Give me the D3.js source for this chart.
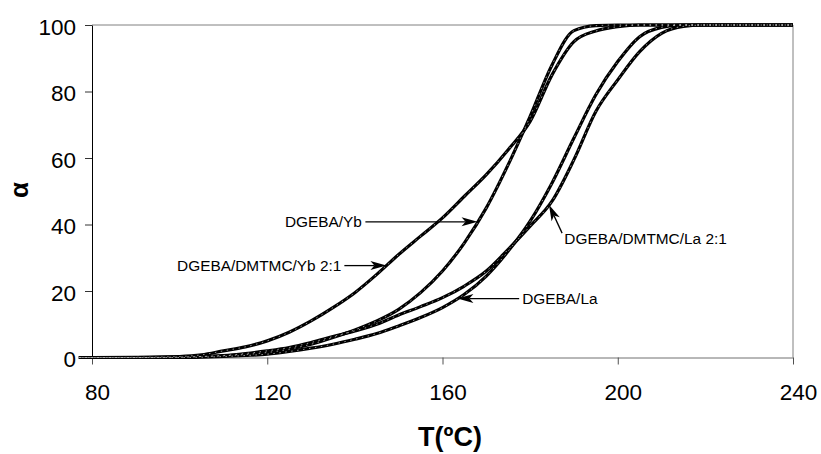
<!DOCTYPE html>
<html>
<head>
<meta charset="utf-8">
<script src="https://cdn.jsdelivr.net/npm/d3@7"></script>
<style>
  html, body { margin: 0; padding: 0; background: #fff; }
  svg { display: block; font-family: "Liberation Sans", Arial, Helvetica, sans-serif; }
</style>
</head>
<body>
<svg id="chart" width="821" height="454"></svg>
<script>
// Temperature grid (ºC) shared by every conversion curve
const temps = [77, 80, 90, 100, 105, 110, 115, 120, 125, 130, 135, 140, 145, 150, 155, 160,
               165, 170, 175, 180, 185, 190, 195, 200, 205, 210, 215, 220, 230, 240];

// Degree of conversion α (%) for each formulation
const alphaYb = [0, 0, 0, 0.1, 0.3, 0.5, 0.9, 1.5, 2.5, 4.0, 6.0, 8.3, 11.0, 14.5, 19.5, 26.0,
                 34.5, 45.0, 58.0, 72.5, 88.0, 98.3, 99.8, 100, 100, 100, 100, 100, 100, 100];
const alphaYbBlend = [0, 0, 0.05, 0.3, 0.8, 2.0, 3.2, 5.0, 7.6, 11.0, 15.0, 19.5, 25.0, 31.0, 36.5, 42.0,
                      48.5, 55.0, 62.5, 71.0, 85.0, 95.0, 98.2, 99.5, 100, 100, 100, 100, 100, 100];
const alphaLa = [0, 0, 0, 0, 0.1, 0.3, 0.6, 1.0, 1.8, 2.8, 4.0, 5.5, 7.2, 9.5, 12.0, 15.0,
                 19.0, 24.5, 32.0, 41.0, 52.5, 66.0, 79.0, 89.0, 96.5, 99.3, 100, 100, 100, 100];
const alphaLaBlend = [0, 0, 0, 0.1, 0.3, 0.6, 1.2, 2.0, 3.0, 4.5, 6.3, 8.0, 10.0, 12.8, 15.3, 18.0,
                      21.5, 26.0, 32.5, 39.5, 47.0, 59.5, 74.0, 83.5, 92.0, 97.5, 99.6, 100, 100, 100];

const seriesNames = ["DGEBA/Yb", "DGEBA/DMTMC/Yb 2:1", "DGEBA/La", "DGEBA/DMTMC/La 2:1"];
const seriesValues = [alphaYb, alphaYbBlend, alphaLa, alphaLaBlend];

const xTicks = [80, 120, 160, 200, 240];
const yTicks = [0, 20, 40, 60, 80, 100];
const xTitle = "T(ºC)";
const yTitle = "α";

// Callouts: arrow head sits on the named curve at tipT; tail and text in data units
const callouts = [
  { series: 0, tipT: 168.0, tailT: 142.4, textT: 141.6, anchor: "end" },
  { series: 1, tipT: 147.2, tailT: 137.6, textT: 136.9, anchor: "end" },
  { series: 2, tipT: 163.4, tailT: 177.5, textT: 178.2, anchor: "start" },
  { series: 3, tipT: 184.3, tailT: 187.3, tailA: 37.4, textT: 187.8, textA: 34.1, anchor: "start" }
];

const W = 821, H = 454;
const margin = { top: 25, right: 28, bottom: 96.5, left: 92 };

const svg = d3.select("#chart");
const x = d3.scaleLinear().domain([80, 240]).range([margin.left, W - margin.right]);
const y = d3.scaleLinear().domain([0, 100]).range([H - margin.bottom, margin.top]);

// plot-area border (top and right)
svg.append("path")
  .attr("d", `M${x(80)},${y(100)}H${x(240)}V${y(0)}`)
  .attr("fill", "none").attr("stroke", "#808080").attr("stroke-width", 1);

// x axis
const gx = svg.append("g")
  .attr("transform", `translate(0,${y(0)})`)
  .call(d3.axisBottom(x).tickValues(xTicks).tickSize(7).tickPadding(20).tickSizeOuter(0));
gx.select(".domain").attr("stroke", "#707070");
gx.selectAll(".tick line").attr("stroke", "#505050");
gx.selectAll(".tick text").attr("font-size", "22.5px").attr("fill", "#000")
  .attr("font-family", "Liberation Sans, Arial, sans-serif").attr("dx", 5);

// y axis
const gy = svg.append("g")
  .attr("transform", `translate(${x(80)},0)`)
  .call(d3.axisLeft(y).tickValues(yTicks).tickSize(7).tickPadding(9).tickSizeOuter(0));
gy.select(".domain").attr("stroke", "#000");
gy.selectAll(".tick line").attr("stroke", "#333");
gy.selectAll(".tick text").attr("font-size", "22.5px").attr("fill", "#000")
  .attr("font-family", "Liberation Sans, Arial, sans-serif").attr("dy", "0.42em");

// axis titles
svg.append("text")
  .attr("x", 450).attr("y", 446)
  .attr("text-anchor", "middle")
  .attr("font-weight", "bold").attr("font-size", "27px")
  .text(xTitle);
svg.append("text")
  .attr("transform", "translate(28,190) rotate(-90)")
  .attr("text-anchor", "middle")
  .attr("font-weight", "bold").attr("font-size", "26px")
  .text(yTitle);

// conversion curves
const line = d3.line()
  .x((d, i) => x(temps[i]))
  .y(d => y(d))
  .curve(d3.curveMonotoneX);

const curves = svg.append("g");
seriesValues.forEach((vals, k) => {
  curves.append("path")
    .attr("d", line(vals))
    .attr("fill", "none").attr("stroke", "#000")
    .attr("stroke-width", 3.2).attr("stroke-linejoin", "round");
});
// hollow marker flecks along the measured curves
seriesValues.forEach((vals, k) => {
  curves.append("path")
    .attr("d", line(vals))
    .attr("fill", "none").attr("stroke", "#fff")
    .attr("stroke-width", 0.8).attr("stroke-opacity", 0.75)
    .attr("stroke-dasharray", "1.5 4.5").attr("stroke-dashoffset", k * 1.7);
});

// value of a series at temperature t (linear between grid points)
function alphaAt(vals, t) {
  const i = d3.bisectRight(temps, t) - 1;
  const j = Math.min(i + 1, temps.length - 1);
  if (i === j) return vals[i];
  const f = (t - temps[i]) / (temps[j] - temps[i]);
  return vals[i] + f * (vals[j] - vals[i]);
}

// arrow with a stealth-style head ending at (x2,y2)
function arrow(g, x1, y1, x2, y2) {
  const len = 16, half = 4.5, notch = 4;
  const dx = x2 - x1, dy = y2 - y1, d = Math.hypot(dx, dy);
  const ux = dx / d, uy = dy / d, nx = -uy, ny = ux;
  const bx = x2 - ux * len, by = y2 - uy * len;
  g.append("line")
    .attr("x1", x1).attr("y1", y1)
    .attr("x2", bx + ux * notch).attr("y2", by + uy * notch)
    .attr("stroke", "#000").attr("stroke-width", 1.3);
  g.append("path")
    .attr("d", `M${x2},${y2}L${bx + nx * half},${by + ny * half}L${bx + ux * notch},${by + uy * notch}L${bx - nx * half},${by - ny * half}Z`)
    .attr("fill", "#000");
}

const notes = svg.append("g");
callouts.forEach(c => {
  const tipA = alphaAt(seriesValues[c.series], c.tipT);
  const tailA = c.tailA !== undefined ? c.tailA : tipA;
  arrow(notes, x(c.tailT), y(tailA), x(c.tipT), y(tipA));
  const ty = c.textA !== undefined ? y(c.textA) : y(tailA) + 5;
  notes.append("text")
    .attr("x", x(c.textT)).attr("y", ty)
    .attr("text-anchor", c.anchor)
    .attr("font-size", "15.4px")
    .text(seriesNames[c.series]);
});
</script>
</body>
</html>
